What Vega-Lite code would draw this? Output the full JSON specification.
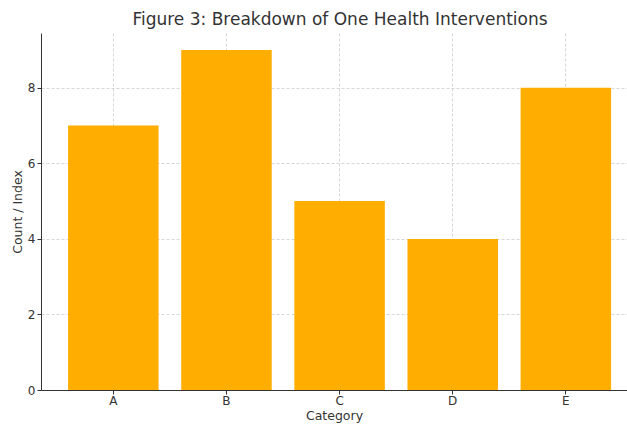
{
  "$schema": "https://vega.github.io/schema/vega-lite/v6.json",
  "autosize": "none",
  "width": 586,
  "height": 357,
  "padding": {"left": 41, "top": 33, "right": 0, "bottom": 34},
  "background": "white",
  "title": {
    "text": "Figure 3: Breakdown of One Health Interventions",
    "font": "DejaVu Sans",
    "fontSize": 17,
    "fontWeight": "normal",
    "color": "#333333",
    "offset": 4,
    "dx": 6
  },
  "data": {
    "values": [
      {"Category": "A", "Value": 7},
      {"Category": "B", "Value": 9},
      {"Category": "C", "Value": 5},
      {"Category": "D", "Value": 4},
      {"Category": "E", "Value": 8}
    ]
  },
  "config": {
    "view": {"stroke": null},
    "axis": {
      "labelFont": "DejaVu Sans",
      "titleFont": "DejaVu Sans",
      "labelFontSize": 12,
      "titleFontSize": 12.5,
      "titleFontWeight": "normal",
      "labelColor": "#333333",
      "titleColor": "#333333",
      "domainColor": "#333333",
      "tickColor": "#333333",
      "tickSize": 4,
      "gridColor": "#cccccc",
      "gridDash": [3, 2],
      "gridWidth": 0.8,
      "zindex": 1
    }
  },
  "mark": {"type": "bar", "color": "#FFAE00"},
  "encoding": {
    "x": {
      "field": "Category",
      "type": "nominal",
      "scale": {"paddingInner": 0.2, "paddingOuter": 0.19, "align": 0.63},
      "axis": {"labelAngle": 0, "title": "Category", "grid": true, "bandPosition": 0.5, "titlePadding": 3, "labelPadding": 1}
    },
    "y": {
      "field": "Value",
      "type": "quantitative",
      "scale": {"domain": [0, 9.45], "nice": false},
      "axis": {"title": "Count / Index", "values": [0, 2, 4, 6, 8], "titlePadding": 3, "labelPadding": 2}
    }
  }
}
